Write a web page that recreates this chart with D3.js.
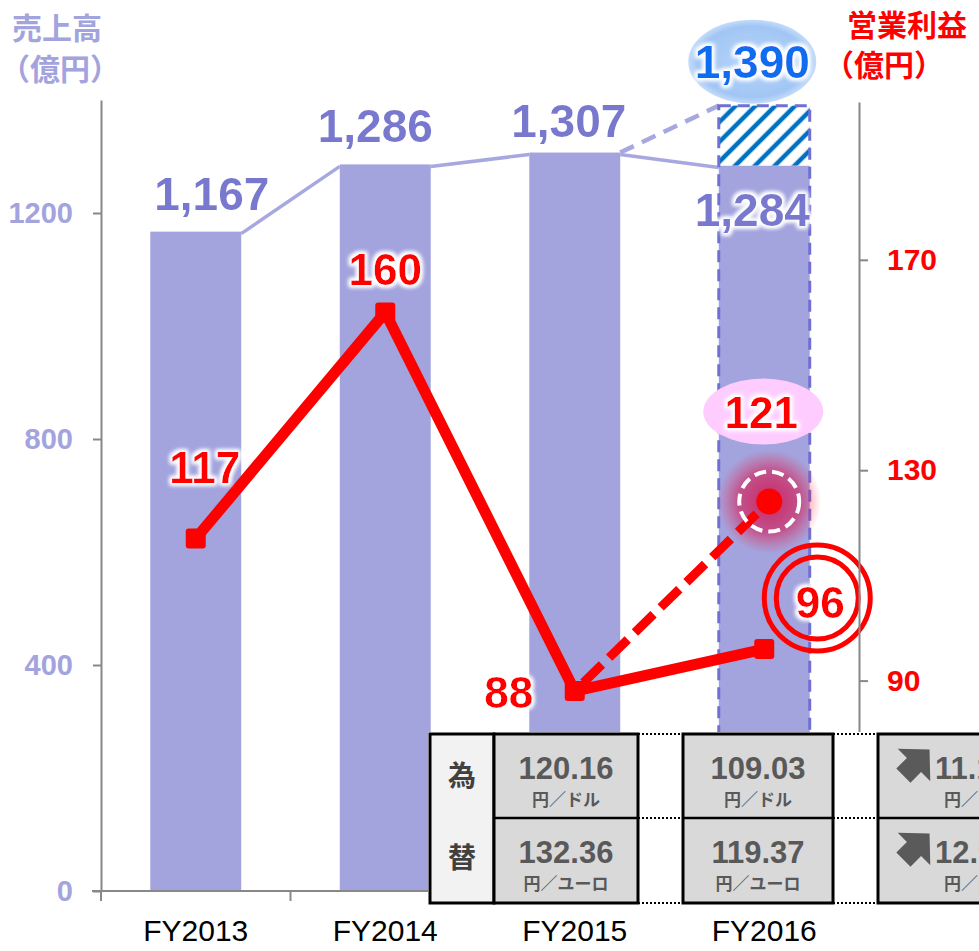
<!DOCTYPE html>
<html>
<head>
<meta charset="utf-8">
<script src="https://cdnjs.cloudflare.com/ajax/libs/d3/7.8.5/d3.min.js"></script>
<style>
	body { margin: 0; background: #fff; }
	svg text { font-family: "Liberation Sans", Arial, sans-serif; }
	svg text.jp { font-family: "Noto Sans CJK JP", "Noto Sans", sans-serif; }
</style>
</head>
<body>
<svg id="mainSVG" width="979" height="951"></svg>
<script>
// chart values
var years = ['FY2013', 'FY2014', 'FY2015', 'FY2016'];
var sales = [1167, 1286, 1307, 1284];
var salesPlan = 1390;
var opIncome = [117, 160, 88, 96];
var opPlan = 121;
var salesTicks = [0, 400, 800, 1200];
var opTicks = [90, 130, 170];

// exchange rate table (FY2015, FY2016, difference)
var usdRates = ['120.16', '109.03', '11.13'];
var eurRates = ['132.36', '119.37', '12.99'];
var usdUnit = '円／ドル';
var eurUnit = '円／ユーロ';

var f = { width: 979, height: 951, left: 101, right: 859, top: 100, bottom: 891 };

var svg = d3.select('#mainSVG');
var defs = svg.append('defs');

// white halo behind labels
var glow = defs.append('filter').attr('id', 'glow')
	.attr('x', '-30%').attr('y', '-30%').attr('width', '160%').attr('height', '160%');
glow.append('feMorphology').attr('in', 'SourceAlpha').attr('operator', 'dilate').attr('radius', 2).attr('result', 'd');
glow.append('feGaussianBlur').attr('in', 'd').attr('stdDeviation', 2.2).attr('result', 'b');
glow.append('feFlood').attr('flood-color', '#fff');
glow.append('feComposite').attr('in2', 'b').attr('operator', 'in').attr('result', 'w');
var gm = glow.append('feMerge');
gm.append('feMergeNode').attr('in', 'w');
gm.append('feMergeNode').attr('in', 'w');
gm.append('feMergeNode').attr('in', 'SourceGraphic');

var hatch = defs.append('pattern').attr('id', 'hatch')
	.attr('width', 14).attr('height', 14)
	.attr('patternUnits', 'userSpaceOnUse')
	.attr('patternTransform', 'rotate(45)');
hatch.append('rect').attr('width', 14).attr('height', 14).attr('fill', '#fff');
hatch.append('line').attr('x1', 7).attr('x2', 7).attr('y1', 0).attr('y2', 14)
	.attr('stroke', '#0070c0').attr('stroke-width', 4.5);

var redGlow = defs.append('radialGradient').attr('id', 'redGlow');
redGlow.append('stop').attr('offset', '0%').attr('stop-color', '#d4003c').attr('stop-opacity', 0.75);
redGlow.append('stop').attr('offset', '60%').attr('stop-color', '#e0003c').attr('stop-opacity', 0.5);
redGlow.append('stop').attr('offset', '100%').attr('stop-color', '#ff2030').attr('stop-opacity', 0);

var blueFill = defs.append('radialGradient').attr('id', 'blueFill');
blueFill.append('stop').attr('offset', '0%').attr('stop-color', '#b4d4fa');
blueFill.append('stop').attr('offset', '85%').attr('stop-color', '#a2c6f4');
blueFill.append('stop').attr('offset', '100%').attr('stop-color', '#c4dcfa');

// scales
var x = d3.scaleBand().domain(years).range([f.left, f.right])
	.paddingInner(0.52).paddingOuter(0.26);
var bw = x.bandwidth();
var cx = function(d) { return x(d) + bw / 2; };
var yL = d3.scaleLinear().domain([0, 1400]).range([f.bottom, f.top]);
var yR = d3.scaleLinear().domain([50, 200]).range([f.bottom, f.top + 2]);

var barColor = '#a3a3de';

// bars
svg.append('g').selectAll('rect')
	.data(years)
	.enter().append('rect')
	.attr('x', function(d) { return x(d); })
	.attr('y', function(d, i) { return yL(sales[i]); })
	.attr('width', bw)
	.attr('height', function(d, i) { return f.bottom - yL(sales[i]); })
	.attr('fill', barColor);

// lines joining bar tops
for (var i = 0; i < years.length - 1; i++) {
	svg.append('line')
		.attr('x1', x(years[i]) + bw).attr('y1', yL(sales[i]) + 2)
		.attr('x2', x(years[i + 1])).attr('y2', yL(sales[i + 1]) + 2)
		.attr('stroke', '#a8a8e0').attr('stroke-width', 3.5);
}
svg.append('line')
	.attr('x1', x('FY2015') + bw).attr('y1', yL(sales[2]))
	.attr('x2', x('FY2016')).attr('y2', yL(salesPlan))
	.attr('stroke', '#a8a8e0').attr('stroke-width', 4.5)
	.attr('stroke-dasharray', '15,9');

// FY2016 plan: hatched part plus dashed outline of the whole bar
svg.append('rect')
	.attr('x', x('FY2016')).attr('y', yL(salesPlan))
	.attr('width', bw).attr('height', yL(sales[3]) - yL(salesPlan))
	.attr('fill', 'url(#hatch)');
svg.append('rect')
	.attr('x', x('FY2016')).attr('y', yL(salesPlan))
	.attr('width', bw).attr('height', f.bottom - yL(salesPlan))
	.attr('fill', 'none').attr('stroke', '#7070d2').attr('stroke-width', 3)
	.attr('stroke-dasharray', '12,7');

// sales labels
var salesDx = [16, -10, -6, -12];
var salesDy = [-22, -22, -16, 60];
svg.append('g').selectAll('text')
	.data(sales)
	.enter().append('text')
	.attr('x', function(d, i) { return cx(years[i]) + salesDx[i]; })
	.attr('y', function(d, i) { return yL(d) + salesDy[i]; })
	.attr('text-anchor', 'middle')
	.attr('font-size', 46).attr('font-weight', 'bold')
	.attr('fill', '#7878cf')
	.attr('filter', 'url(#glow)')
	.text(function(d) { return d3.format(',')(d); });

// operating income
var planX = cx('FY2016') + 5;

svg.append('circle')
	.attr('cx', planX).attr('cy', yR(opPlan) - 16)
	.attr('r', 52).attr('fill', 'url(#redGlow)');

var line = d3.line()
	.x(function(d, i) { return cx(years[i]); })
	.y(function(d) { return yR(d); });

svg.append('path')
	.datum(opIncome)
	.attr('d', line)
	.attr('fill', 'none').attr('stroke', '#ff0000')
	.attr('stroke-width', 11).attr('stroke-linejoin', 'round');

svg.append('line')
	.attr('x1', cx('FY2015')).attr('y1', yR(opIncome[2]))
	.attr('x2', planX).attr('y2', yR(opPlan) - 16)
	.attr('stroke', '#ff0000').attr('stroke-width', 9)
	.attr('stroke-dasharray', '26,10').attr('stroke-dashoffset', -12);

svg.append('g').selectAll('rect')
	.data(opIncome)
	.enter().append('rect')
	.attr('x', function(d, i) { return cx(years[i]) - 10; })
	.attr('y', function(d) { return yR(d) - 10; })
	.attr('width', 20).attr('height', 20).attr('rx', 3)
	.attr('fill', '#ff0000');

svg.append('circle')
	.attr('cx', planX).attr('cy', yR(opPlan) - 16).attr('r', 13)
	.attr('fill', '#ff0000');
svg.append('circle')
	.attr('cx', planX).attr('cy', yR(opPlan) - 16).attr('r', 30)
	.attr('fill', 'none').attr('stroke', '#fff').attr('stroke-width', 4)
	.attr('stroke-dasharray', '12,6');

// circled result for FY2016
var ringX = cx('FY2016') + 53, ringY = yR(opIncome[3]) - 51;
svg.append('circle').attr('cx', ringX).attr('cy', ringY).attr('r', 53)
	.attr('fill', 'none').attr('stroke', '#ff0000').attr('stroke-width', 5);
svg.append('circle').attr('cx', ringX).attr('cy', ringY).attr('r', 41)
	.attr('fill', 'none').attr('stroke', '#ff0000').attr('stroke-width', 5);

// plan label bubbles
svg.append('ellipse')
	.attr('cx', cx('FY2016') - 1).attr('cy', yR(opPlan) - 106)
	.attr('rx', 60).attr('ry', 33).attr('fill', '#ffccff');
svg.append('ellipse')
	.attr('cx', cx('FY2016') - 12).attr('cy', yL(salesPlan) - 44)
	.attr('rx', 64).attr('ry', 42).attr('fill', 'url(#blueFill)');

svg.append('text')
	.attr('x', cx('FY2016') - 12).attr('y', yL(salesPlan) - 28)
	.attr('text-anchor', 'middle')
	.attr('font-size', 46).attr('font-weight', 'bold')
	.attr('fill', '#0a6cf0').attr('filter', 'url(#glow)')
	.text(d3.format(',')(salesPlan));

var opDx = [9, 0, -66, 56];
var opDy = [-56, -27, 17, -31];
svg.append('g').selectAll('text')
	.data(opIncome)
	.enter().append('text')
	.attr('x', function(d, i) { return cx(years[i]) + opDx[i]; })
	.attr('y', function(d, i) { return yR(d) + opDy[i]; })
	.attr('text-anchor', 'middle')
	.attr('font-size', 44).attr('font-weight', 'bold')
	.attr('fill', '#ff0000').attr('filter', 'url(#glow)')
	.text(function(d) { return d; });

svg.append('text')
	.attr('x', cx('FY2016') - 3).attr('y', yR(opPlan) - 90)
	.attr('text-anchor', 'middle')
	.attr('font-size', 44).attr('font-weight', 'bold')
	.attr('fill', '#ff0000').attr('filter', 'url(#glow)')
	.text(opPlan);

// axes
var axisColor = '#888';

var leftAxis = svg.append('g')
	.attr('transform', 'translate(' + f.left + ',0)')
	.call(d3.axisLeft(yL).tickValues(salesTicks).tickFormat(d3.format('d'))
		.tickSize(8).tickSizeOuter(0).tickPadding(20));
leftAxis.selectAll('text')
	.attr('font-size', 29).attr('font-weight', 'bold').attr('fill', barColor)
	.attr('font-family', '"Liberation Sans", Arial, sans-serif');

var rightAxis = svg.append('g')
	.attr('transform', 'translate(' + f.right + ',0)')
	.call(d3.axisRight(yR).tickValues(opTicks).tickSize(9).tickSizeOuter(0).tickPadding(19));
rightAxis.selectAll('text')
	.attr('font-size', 30).attr('font-weight', 'bold').attr('fill', '#ff0000')
	.attr('font-family', '"Liberation Sans", Arial, sans-serif');

[leftAxis, rightAxis].forEach(function(a) {
	a.selectAll('path, line').attr('stroke', axisColor).attr('stroke-width', 2);
});

var bottom = svg.append('g');
bottom.append('line')
	.attr('x1', f.left - 9).attr('x2', f.right).attr('y1', f.bottom).attr('y2', f.bottom)
	.attr('stroke', axisColor).attr('stroke-width', 2);
bottom.selectAll('.tk')
	.data(years)
	.enter().append('line')
	.attr('class', 'tk')
	.attr('x1', function(d) { return x(d) - x.step() * 0.26; })
	.attr('x2', function(d) { return x(d) - x.step() * 0.26; })
	.attr('y1', f.bottom).attr('y2', f.bottom + 10)
	.attr('stroke', axisColor).attr('stroke-width', 2);
bottom.selectAll('.lbl')
	.data(years)
	.enter().append('text')
	.attr('class', 'lbl')
	.attr('x', function(d) { return cx(d); })
	.attr('y', 941)
	.attr('text-anchor', 'middle')
	.attr('font-size', 30).attr('fill', '#000')
	.text(function(d) { return d; });

// axis titles
svg.append('text').attr('class', 'jp').attr('x', 12).attr('y', 39)
	.attr('font-size', 30).attr('font-weight', 'bold').attr('fill', barColor).text('売上高');
svg.append('text').attr('class', 'jp').attr('x', 0).attr('y', 80)
	.attr('font-size', 30).attr('font-weight', 'bold').attr('fill', barColor).text('（億円）');
svg.append('text').attr('class', 'jp').attr('x', 847).attr('y', 36)
	.attr('font-size', 30).attr('font-weight', 'bold').attr('fill', '#ff0000').text('営業利益');
svg.append('text').attr('class', 'jp').attr('x', 824).attr('y', 76)
	.attr('font-size', 30).attr('font-weight', 'bold').attr('fill', '#ff0000').text('（億円）');

// exchange rate table
var t = { top: 734, mid: 818, bottom: 903 };
var tbl = svg.append('g');
tbl.append('rect').attr('x', 428).attr('y', t.top - 2).attr('width', 560).attr('height', t.bottom - t.top + 4)
	.attr('fill', '#fff');

var blocks = [
	{ x0: 494, x1: 638 },
	{ x0: 683, x1: 833 },
	{ x0: 878, x1: 1040 }
];

// dotted joins between blocks
[t.top, t.mid, t.bottom].forEach(function(yy) {
	[[638, 683], [833, 878]].forEach(function(seg) {
		tbl.append('line').attr('x1', seg[0]).attr('x2', seg[1]).attr('y1', yy).attr('y2', yy)
			.attr('stroke', '#000').attr('stroke-width', 2).attr('stroke-dasharray', '2,2');
	});
});

// row header cell
tbl.append('rect').attr('x', 430).attr('y', t.top).attr('width', 64).attr('height', t.bottom - t.top)
	.attr('fill', '#f2f2f2').attr('stroke', '#000').attr('stroke-width', 3);
tbl.append('text').attr('class', 'jp').attr('x', 462).attr('y', 786).attr('text-anchor', 'middle')
	.attr('font-size', 28).attr('font-weight', 'bold').attr('fill', '#404040').text('為');
tbl.append('text').attr('class', 'jp').attr('x', 462).attr('y', 868).attr('text-anchor', 'middle')
	.attr('font-size', 28).attr('font-weight', 'bold').attr('fill', '#404040').text('替');

blocks.forEach(function(b, i) {
	tbl.append('rect').attr('x', b.x0).attr('y', t.top).attr('width', b.x1 - b.x0).attr('height', t.bottom - t.top)
		.attr('fill', '#d9d9d9').attr('stroke', '#000').attr('stroke-width', 3);
	tbl.append('line').attr('x1', b.x0).attr('x2', b.x1).attr('y1', t.mid).attr('y2', t.mid)
		.attr('stroke', '#000').attr('stroke-width', 2.5);

	var last = i === blocks.length - 1;
	var tx = last ? 935 : (b.x0 + b.x1) / 2;
	var ux = last ? 944 : (b.x0 + b.x1) / 2;
	var anchor = last ? 'start' : 'middle';

	[[usdRates[i], usdUnit, 779, 806], [eurRates[i], eurUnit, 863, 890]].forEach(function(r) {
		tbl.append('text').attr('x', tx).attr('y', r[2]).attr('text-anchor', anchor)
			.attr('font-size', 31).attr('font-weight', 'bold').attr('fill', '#595959').text(r[0]);
		tbl.append('text').attr('class', 'jp').attr('x', ux).attr('y', r[3]).attr('text-anchor', anchor)
			.attr('font-size', 17).attr('font-weight', 'bold').attr('fill', '#595959').text(r[1]);
		if (last) {
			// chunky arrow pointing up-right
			tbl.append('path')
				.attr('d', 'M-15,-10L0,-10L0,-23L22,0L0,23L0,10L-15,10Z')
				.attr('transform', 'translate(914,' + (r[2] - 14) + ') rotate(-45)')
				.attr('fill', '#5a5a5a');
		}
	});
});
</script>
</body>
</html>
